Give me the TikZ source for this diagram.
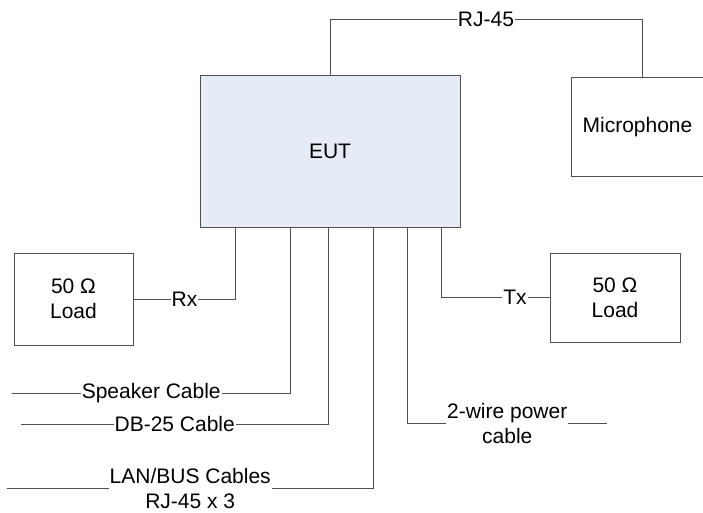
\documentclass[tikz,border=0pt]{standalone}
\usepackage{fontspec}
\setmainfont{Liberation Sans}
\usepackage{tikz}
\usetikzlibrary{positioning, shapes, backgrounds, calc}

\definecolor{wire}{RGB}{80,80,80}
\definecolor{eutblue}{RGB}{230,236,246}

\begin{document}
\begin{tikzpicture}[x=1pt, y=1pt, line width=1pt,
  unit/.style={draw=wire, minimum width=260pt, minimum height=151pt, align=center, fill=eutblue, font=\fontsize{21}{25}\selectfont},
  device/.style={draw=wire, minimum width=133pt, minimum height=99pt, align=center, font=\fontsize{21}{25}\selectfont},
  load/.style={draw=wire, minimum width=119pt, minimum height=92pt, align=center, font=\fontsize{21}{25}\selectfont},
  lbl/.style={fill=white, inner sep=1pt, align=center, font=\fontsize{21}{25}\selectfont},
  cable/.style={draw=wire}]
  \useasboundingbox (0,0) rectangle (703,512);

  \node[unit] (eut) at (330,360.5) {EUT};
  \node[device] (mic) at (637.5,384.5) {Microphone};
  \node[load] (rxload) at (73.5,213) {50 Ω\\Load};
  \node[load, minimum width=130pt, minimum height=89pt] (txload) at (615,214.5) {50 Ω\\Load};

  % tap points under the EUT
  \coordinate (rxtap) at ([xshift=36pt]eut.south west);
  \coordinate (spktap) at ([xshift=91pt]eut.south west);
  \coordinate (dbtap) at ([xshift=129pt]eut.south west);
  \coordinate (lantap) at ([xshift=174pt]eut.south west);
  \coordinate (pwrtap) at ([xshift=208pt]eut.south west);
  \coordinate (txtap) at ([xshift=242pt]eut.south west);

  % loose cable ends
  \coordinate (spkend) at (12,119);
  \coordinate (dbend) at (21,88);
  \coordinate (lanend) at (7,24);
  \coordinate (pwrend) at (607,89);

  \draw[cable] (eut.north) -- ++(0,56) -| node[lbl, pos=0.25] {RJ-45} ([xshift=4.5pt]mic.north);
  \draw[cable] (rxtap) |- node[lbl, pos=0.75] {Rx} (rxload.east);
  \draw[cable] (txtap) |- node[lbl, pos=0.84] {Tx} (txload.west);
  \draw[cable] (spktap) |- node[lbl, pos=0.75] {Speaker Cable} (spkend);
  \draw[cable] (dbtap) |- node[lbl, pos=0.75] {DB-25 Cable} (dbend);
  \draw[cable] (lantap) |- node[lbl, pos=0.75] {LAN/BUS Cables\\RJ-45 x 3} (lanend);
  \draw[cable] (pwrtap) |- node[lbl, pos=0.75] {2-wire power\\cable} (pwrend);
\end{tikzpicture}
\end{document}
